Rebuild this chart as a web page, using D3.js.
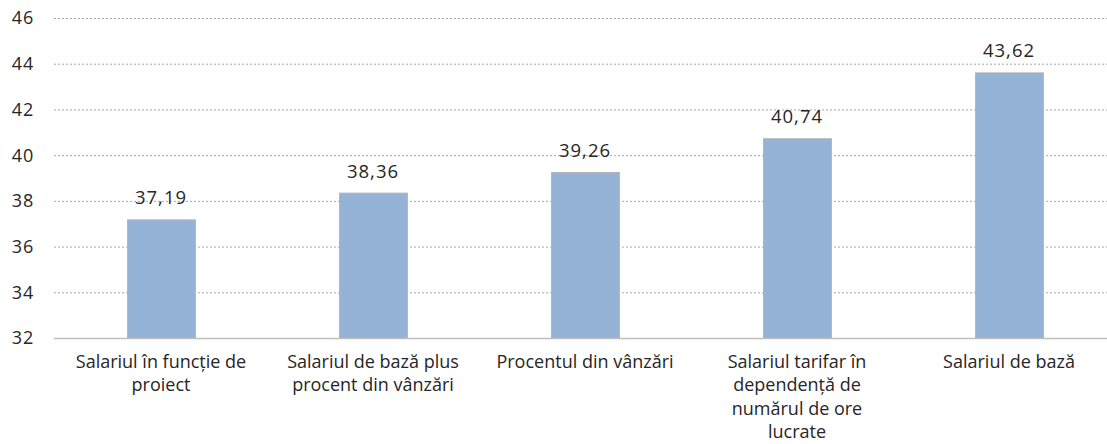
<!DOCTYPE html>
<html>
<head>
  <meta charset="UTF-8">
  <script src="https://d3js.org/d3.v7.min.js"></script>
  <style>
    body { margin: 0; padding: 0; background: #fff; }
    svg { display: block; font-family: "Open Sans", sans-serif; }
    .grid line { stroke: #a6a6a6; stroke-dasharray: 2 2; }
  </style>
</head>
<body>
  <svg id="chart"></svg>
  <script>
    const categories = [
      ["Salariul în funcție de", "proiect"],
      ["Salariul de bază plus", "procent din vânzări"],
      ["Procentul din vânzări"],
      ["Salariul tarifar în", "dependență de", "numărul de ore", "lucrate"],
      ["Salariul de bază"]
    ];
    const values = [37.19, 38.36, 39.26, 40.74, 43.62];
    const yTicks = [32, 34, 36, 38, 40, 42, 44, 46];

    const width = 1107, height = 444;
    const svg = d3.select("#chart").attr("width", width).attr("height", height);

    const x = d3.scaleBand()
      .domain(d3.range(categories.length))
      .range([55, 1115])
      .paddingInner(0.68)
      .paddingOuter(0.34);

    const y = d3.scaleLinear().domain([32, 46]).range([338, 18]);

    // dotted gridlines
    svg.append("g")
      .attr("class", "grid")
      .selectAll("line")
      .data(yTicks.filter(d => d > 32))
      .join("line")
      .attr("x1", 54).attr("x2", width)
      .attr("y1", d => y(d) + 0.5).attr("y2", d => y(d) + 0.5);

    // y tick labels
    svg.append("g")
      .selectAll("text")
      .data(yTicks)
      .join("text")
      .attr("x", 34)
      .attr("y", d => y(d))
      .attr("dy", "0.36em")
      .attr("text-anchor", "end")
      .attr("font-size", 18)
      .attr("letter-spacing", 0.8)
      .attr("fill", "#262626")
      .text(d => d);

    // bars
    svg.append("g")
      .selectAll("rect")
      .data(values)
      .join("rect")
      .attr("x", (d, i) => x(i) + 0.5)
      .attr("y", d => y(d) + 0.5)
      .attr("width", x.bandwidth())
      .attr("height", d => y(32) - y(d))
      .attr("fill", "#95b3d7")
      .attr("stroke", "#b3b3b3")
      .attr("stroke-width", 1);

    // baseline
    svg.append("line")
      .attr("x1", 54).attr("x2", width)
      .attr("y1", y(32) + 0.5).attr("y2", y(32) + 0.5)
      .attr("stroke", "#bfbfbf")
      .attr("stroke-width", 1.5);

    // value labels
    svg.append("g")
      .selectAll("text")
      .data(values)
      .join("text")
      .attr("x", (d, i) => x(i) + x.bandwidth() / 2)
      .attr("y", d => y(d) - 15)
      .attr("text-anchor", "middle")
      .attr("font-size", 18.5)
      .attr("letter-spacing", 1)
      .attr("fill", "#262626")
      .text(d => d.toFixed(2).replace(".", ","));

    // category labels
    const catG = svg.append("g")
      .selectAll("text")
      .data(categories)
      .join("text")
      .attr("x", (d, i) => x(i) + x.bandwidth() / 2)
      .attr("y", 368)
      .attr("text-anchor", "middle")
      .attr("font-size", 18)
      .attr("fill", "#262626");

    catG.each(function(lines, i) {
      d3.select(this).selectAll("tspan")
        .data(lines)
        .join("tspan")
        .attr("x", x(i) + x.bandwidth() / 2)
        .attr("dy", (d, j) => j === 0 ? 0 : 23.3)
        .text(d => d);
    });
  </script>
</body>
</html>
